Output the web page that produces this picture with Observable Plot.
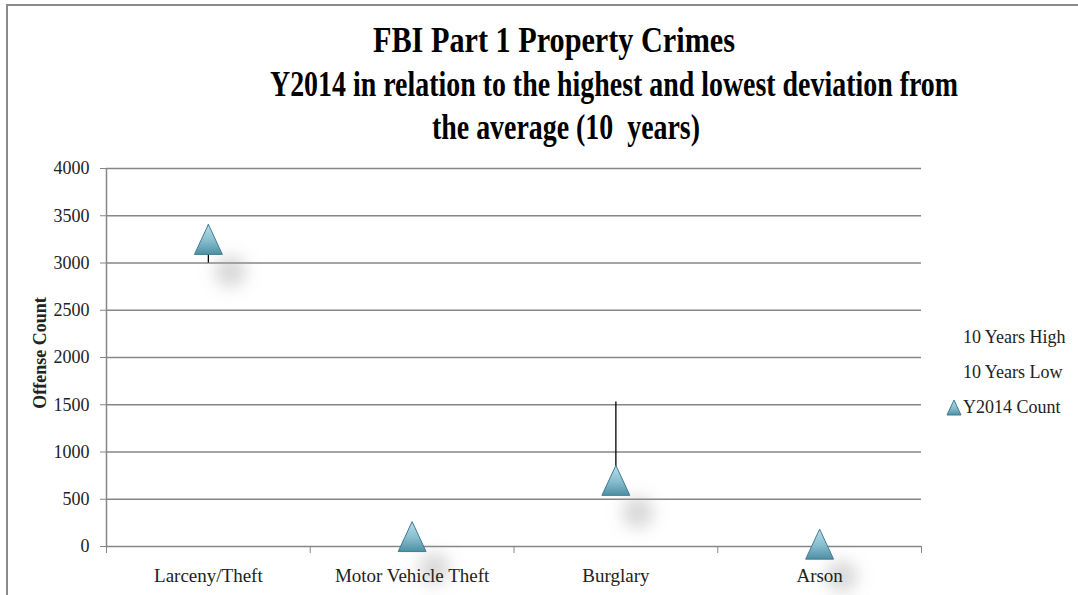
<!DOCTYPE html>
<html><head><meta charset="utf-8">
<script src="https://cdn.jsdelivr.net/npm/d3@7"></script>
<script src="https://cdn.jsdelivr.net/npm/@observablehq/plot@0.6"></script>
<style>
body{margin:0;background:#fff;}
#wrap{position:relative;width:1078px;height:595px;overflow:hidden;background:#fff;font-family:"Liberation Serif",serif;color:#222;}
#border{position:absolute;left:6px;top:4px;width:1200px;height:700px;border-left:2px solid #8a8a8a;border-top:2px solid #8a8a8a;}
.t{position:absolute;font-weight:bold;font-size:35px;line-height:40px;white-space:pre;color:#000;transform-origin:center center;}
.lg{position:absolute;font-size:18px;line-height:20px;white-space:pre;color:#222;}
#chart svg{position:absolute;left:0;top:0;}
</style></head>
<body>
<svg width="0" height="0" style="position:absolute">
  <defs>
    <linearGradient id="triGrad" x1="0" y1="0" x2="0" y2="1">
      <stop offset="0" stop-color="#b8dfea"/>
      <stop offset="0.55" stop-color="#86bccd"/>
      <stop offset="1" stop-color="#4d8fa4"/>
    </linearGradient>
    <filter id="blurF" x="-100%" y="-100%" width="300%" height="300%">
      <feGaussianBlur stdDeviation="8"/>
    </filter>
  </defs>
</svg>
<div id="wrap">
  <div id="border"></div>
  <div id="chart"></div>
  <div class="t" data-cx="554" data-cy="41" data-w="362">FBI Part 1 Property Crimes</div>
  <div class="t" data-cx="614" data-cy="85" data-w="688">Y2014 in relation to the highest and lowest deviation from</div>
  <div class="t" data-cx="566" data-cy="128" data-w="268">the average (10  years)</div>
  <div class="lg" style="left:963px;top:327px">10 Years High</div>
  <div class="lg" style="left:963px;top:362px">10 Years Low</div>
  <svg style="position:absolute;left:946px;top:399px" width="16" height="17"><path d="M8,1L15,16L1,16Z" fill="url(#triGrad)" stroke="#3f7d90" stroke-width="1"/></svg>
  <div class="lg" style="left:963px;top:397px">Y2014 Count</div>
  <div class="lg" style="left:40px;top:353px;font-weight:bold;transform:translate(-50%,-50%) rotate(-90deg);">Offense Count</div>
</div>
<script>
const categories = ["Larceny/Theft", "Motor Vehicle Theft", "Burglary", "Arson"];
const high10 = [3400, 140, 1530, 40];
const low10 = [3000, 90, 690, 10];
const y2014 = [3250, 105, 700, 25];
const yTicks = [0, 500, 1000, 1500, 2000, 2500, 3000, 3500, 4000];

const data = categories.map((c, i) => ({pos: i + 0.5, cat: c, high: high10[i], low: low10[i], count: y2014[i]}));

const tri = {draw(ctx, size) {
  const r = Math.sqrt(size / Math.PI);
  const w = r * 0.93;
  ctx.moveTo(0, -r); ctx.lineTo(w, r); ctx.lineTo(-w, r); ctx.closePath();
}};

const SHADOW = "#9a9a9a";
const plot = Plot.plot({
  width: 1078, height: 595,
  marginLeft: 106, marginRight: 157, marginTop: 168, marginBottom: 49,
  style: {fontFamily: "Liberation Serif, serif", fontSize: "18px", color: "#222", background: "transparent", overflow: "visible"},
  x: {domain: [0, categories.length], axis: null},
  y: {domain: [0, 4000], axis: null},
  marks: [
    Plot.gridY(yTicks, {stroke: "#868686", strokeOpacity: 1, strokeWidth: 1.5}),
    Plot.ruleX([0], {stroke: "#868686", strokeWidth: 1.5}),
    Plot.axisY(yTicks, {tickSize: 6, tickPadding: 11, stroke: "#868686", strokeOpacity: 1, fill: "#222", fontSize: 18, label: null, tickFormat: d => String(d)}),
    Plot.axisX(d3.range(categories.length + 1), {tickSize: 7, label: null, tickFormat: () => "", stroke: "#868686", strokeOpacity: 1}),
    Plot.dot(data, {x: "pos", y: "count", r: 16, fill: SHADOW, fillOpacity: 0.38, stroke: "none", dx: 22, dy: 32}),
    Plot.axisX(data.map(d => d.pos), {tickSize: 0, tickPadding: 22, label: null, fill: "#222", fontSize: 19, tickFormat: p => categories[Math.floor(p)]}),
    Plot.ruleX(data, {x: "pos", y1: "low", y2: "high", stroke: "#000", strokeWidth: 1.3}),
    Plot.dot(data, {x: "pos", y: "count", r: 15, symbol: tri, fill: "url(#triGrad)", stroke: "#3f7d90", strokeWidth: 1})
  ]
});
d3.select(plot).selectAll("g").filter(function() { return this.getAttribute("fill") === SHADOW; }).attr("filter", "url(#blurF)");
document.getElementById("chart").appendChild(plot);

document.querySelectorAll(".t").forEach(el => {
  const w = el.getBoundingClientRect().width;
  const k = (+el.dataset.w) / w;
  el.style.left = el.dataset.cx + "px";
  el.style.top = (el.dataset.cy - 20) + "px";
  el.style.transform = `translateX(-50%) scaleX(${k})`;
});
</script>
</body></html>
